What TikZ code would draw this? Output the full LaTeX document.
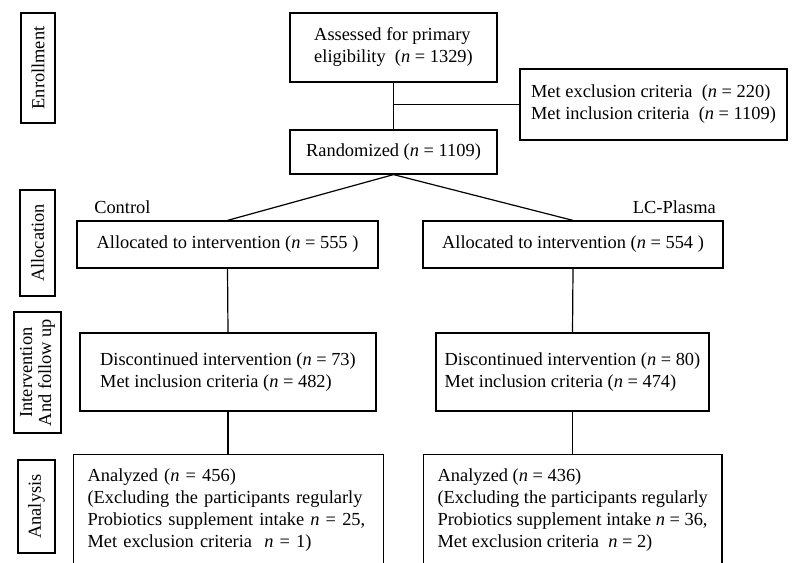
\documentclass[tikz,border=0pt]{standalone}
\usepackage{fontspec}
\setmainfont{Liberation Serif}
\newcommand{\nn}{\textit{n}}

\begin{document}
\begin{tikzpicture}[x=0.5pt, y=-0.5pt, line width=0.6pt,
    font=\fontsize{9.2}{11}\selectfont,
    box/.style={draw, inner sep=0pt, align=left},
    side/.style={draw, inner sep=0pt, rotate=90, align=center},
    tall/.style={draw, anchor=north west, inner xsep=7pt, inner ysep=7pt, align=left}]
  \useasboundingbox (0,0) rectangle (795,562);
  \clip (0,0) rectangle (795,562);

  % stage labels on the left
  \node[side, minimum width=55pt, minimum height=17pt] (enroll) at (38,68) {Enrollment};
  \node[side, minimum width=53pt, minimum height=17.5pt] (alloc) at (37.5,243) {Allocation};
  \node[side, minimum width=60.5pt, minimum height=23.5pt,
        font=\fontsize{9.2}{9.6}\selectfont] (interv) at (37.5,372.5) {Intervention\\And follow up};
  \node[side, minimum width=46.5pt, minimum height=18.5pt] (analysis) at (36.5,506.5) {Analysis};

  % enrollment
  \node[box, minimum width=103.5pt, minimum height=34.5pt] (assess) at (393.5,47.5)
    {Assessed for primary\\eligibility\ \ (\nn{} = 1329)};
  \node[box, minimum width=133.5pt, minimum height=35.5pt] (excl) at (653.5,104.5)
    {Met exclusion criteria\ \ (\nn{} = 220)\\Met inclusion criteria\ \ (\nn{} = 1109)};
  \node[box, minimum width=103.5pt, minimum height=22pt] (rand) at (393.5,152)
    {Randomized (\nn{} = 1109)};

  % allocation
  \node[anchor=west] (ctrl) at (87,207) {Control};
  \node[anchor=east] (lcp) at (723,207) {LC-Plasma};
  \node[box, minimum width=150.5pt, minimum height=23.5pt] (allocC) at (227.5,244.5)
    {Allocated to intervention (\nn{} = 555 )};
  \node[box, minimum width=150pt, minimum height=23.5pt] (allocL) at (573,244.5)
    {Allocated to intervention (\nn{} = 554 )};

  % follow up
  \node[box, minimum width=148pt, minimum height=39pt] (discC) at (228,372)
    {Discontinued intervention (\nn{} = 73)\\Met inclusion criteria (\nn{} = 482)};
  \node[box, minimum width=136.5pt, minimum height=39pt] (discL) at (572.5,372)
    {Discontinued intervention (\nn{} = 80)\\Met inclusion criteria (\nn{} = 474)};

  % analysis
  \node[tall, text width=141pt] (anaC) at (73,454)
    {Analyzed (\nn{} = 456)\\(Excluding the participants regularly\\Probiotics supplement intake \nn{} = 25,\\Met exclusion criteria\ \ \nn{} = 1)};
  \node[tall, minimum width=149pt] (anaL) at (423,454)
    {Analyzed (\nn{} = 436)\\(Excluding the participants regularly\\Probiotics supplement intake \nn{} = 36,\\Met exclusion criteria\ \ \nn{} = 2)};

  % connectors
  \draw (assess.south) -- (rand.north);
  \draw (excl.west) -- (excl.west -| assess.south);
  \draw (rand.south) -- (allocC.north);
  \draw (rand.south) -- (allocL.north);
  \draw (allocC.south) -- (discC.north);
  \draw (allocL.south) -- (discL.north);
  \draw (discC.south) -- (discC.south |- anaC.north);
  \draw (discL.south) -- (discL.south |- anaL.north);
\end{tikzpicture}
\end{document}
